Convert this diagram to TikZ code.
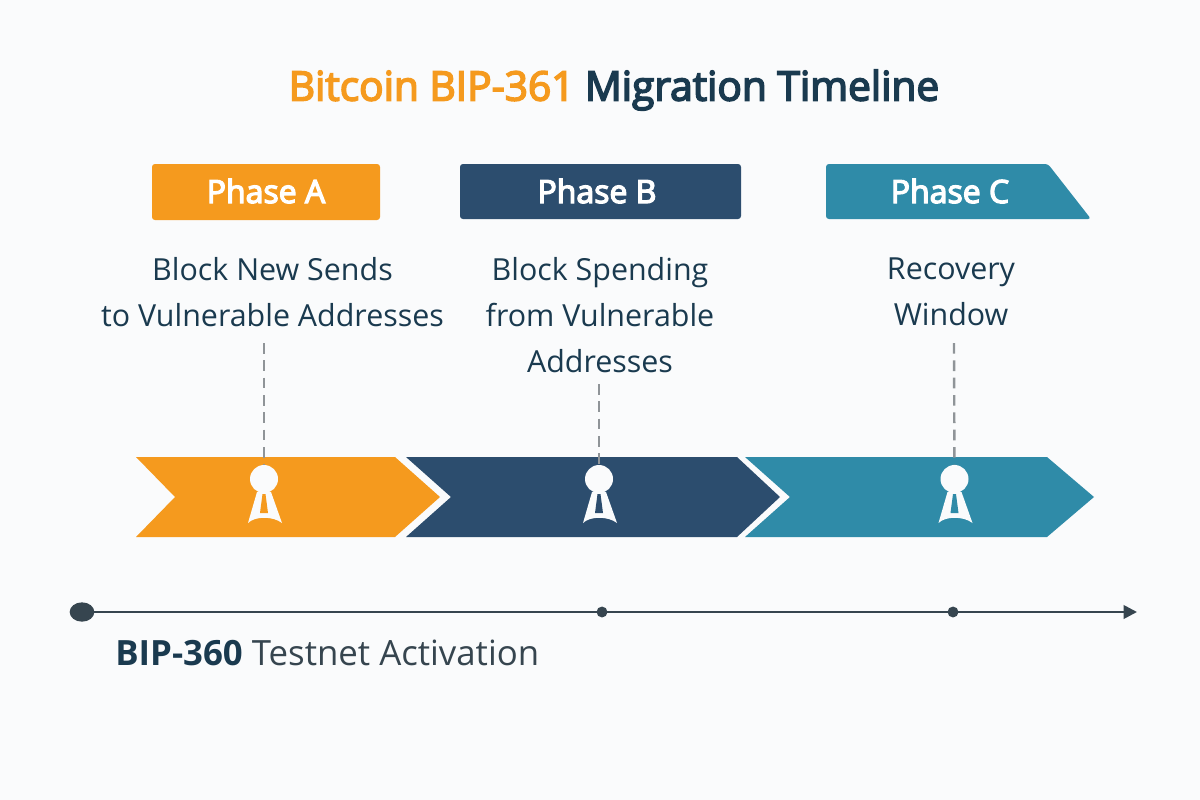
\documentclass[tikz,border=0pt]{standalone}
\usepackage{fontspec}
\setmainfont{Open Sans}
\newfontfamily\semi[FakeBold=4]{Open Sans}
\usetikzlibrary{arrows.meta,shapes.geometric}
\definecolor{bgc}{HTML}{FAFBFC}
\definecolor{orangec}{HTML}{F59A1E}
\definecolor{navyc}{HTML}{2C4D6E}
\definecolor{tealc}{HTML}{2F8BA8}
\definecolor{inkc}{HTML}{1A3A4F}
\definecolor{linec}{HTML}{36454F}
\definecolor{greyc}{HTML}{8F9498}
\tikzset{
  x=0.75pt,y=-0.75pt,
  title/.style={font=\fontsize{30.5}{36}\selectfont\semi,anchor=center,inner sep=0pt},
  phasebox/.style={rounded corners=2.2pt,line width=0},
  phaselabel/.style={text=white,font=\fontsize{24}{28}\selectfont\semi,inner sep=0pt},
  desc/.style={text=inkc,align=center,font=\fontsize{22.8}{34.5}\selectfont,inner sep=0pt},
  guide/.style={draw=greyc,line width=1.8pt,dash pattern=on 8pt off 5pt},
  head/.style={circle,fill=bgc,minimum size=21pt,inner sep=0pt},
  tick/.style={circle,fill=linec,minimum size=8.2pt,inner sep=0pt},
}
\newcommand{\pennant}[2]{%
  \fill[bgc] (#1-7,492) -- (#1+7,492) -- (#1+18,523) .. controls (#1+9,516) and (#1-9,516) .. (#1-16,523) -- cycle;
  \fill[#2] (#1-1.5,494) -- (#1+1.5,494) -- (#1+4,513) -- (#1-4,513) -- cycle;
}
\begin{document}
\begin{tikzpicture}
\useasboundingbox (0,0) rectangle (1200,800);
\fill[bgc] (0,0) rectangle (1200,800);

\node[title] (ttl) at (614,90) {\textcolor{orangec}{Bitcoin BIP-361} \textcolor{inkc}{Migration Timeline}};

% phase tags
\fill[orangec,phasebox] (152,164) rectangle (380,220);
\node[phaselabel] (pa) at (266,191) {Phase A};
\fill[navyc,phasebox] (460,164) rectangle (741,219);
\node[phaselabel] (pb) at (597,191) {Phase B};
\fill[tealc,phasebox] (826,164) -- (1048,164) -- (1091,219) -- (826,219) -- cycle;
\node[phaselabel] (pc) at (950,191) {Phase C};

% descriptions
\node[desc] (da) at (272.5,292) {Block New Sends\\to Vulnerable Addresses};
\node[desc] (db) at (600,315) {Block Spending\\from Vulnerable\\Addresses};
\node[desc] (dc) at (951,292) {Recovery\\Window};

% chevrons
\fill[orangec] (136,457) -- (395,457) -- (440,497) -- (395,537) -- (136,537) -- (175,497) -- cycle;
\fill[navyc] (406,457) -- (737,457) -- (780,497) -- (737,537) -- (406,537) -- (451,497) -- cycle;
\fill[tealc] (745,457) -- (1047,457) -- (1094,497) -- (1047,537) -- (745,537) -- (790,497) -- cycle;

% markers
\coordinate (ga) at (264,343);
\coordinate (gb) at (599,384);
\coordinate (gc) at (954,343);
\node[head] (ha) at (264,479) {};
\node[head] (hb) at (599,479) {};
\node[head] (hc) at (954.5,479) {};
\draw[guide] (ga) -- (ha);
\draw[guide] (gb) -- (hb);
\draw[guide] (gc) -- (hc);
\pennant{264}{orangec}
\pennant{599}{navyc}
\pennant{954.5}{tealc}

% axis
\node[ellipse,fill=linec,minimum width=18.5pt,minimum height=14.5pt,inner sep=0pt] (start) at (82,612) {};
\node[tick] (t1) at (602,612) {};
\node[tick] (t2) at (953,612) {};
\coordinate (endp) at (1137,612);
\draw[linec,line width=2pt,-{Triangle[length=10pt,width=10pt]},shorten <=-1pt] (start) -- (t1.center) -- (t2.center) -- (endp);

\node[anchor=west,inner sep=0pt,font=\fontsize{26.1}{30}\selectfont,text=linec] (lbl) at (115,653) {\textcolor{inkc}{\textbf{BIP-360}} Testnet Activation};
\end{tikzpicture}
\end{document}
